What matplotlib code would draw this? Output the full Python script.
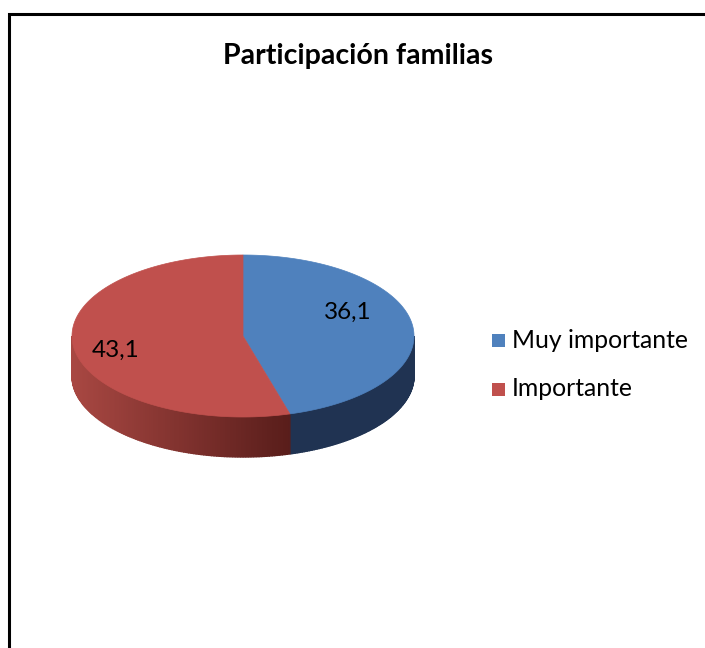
import numpy as np
import matplotlib
matplotlib.use("Agg")
import matplotlib.pyplot as plt
from matplotlib.patches import Polygon, Rectangle
from matplotlib.lines import Line2D

# ---- data ----
title = "Participación familias"
categories = ["Muy importante", "Importante"]
values = [36.1, 43.1]
labels = ["36,1", "43,1"]

# ---- style / layout ----
top_colors = ["#4F81BD", "#C0504D"]
side_light = [(0.14, 0.22, 0.35), (0.66, 0.28, 0.26)]
side_dark = [(0.11, 0.18, 0.29), (0.34, 0.11, 0.10)]
W, H = 705, 648
cx, cy, rx, ry, depth = 243, 336, 171, 81, 40
label_pos = [(348, 312), (116, 350)]
FONT = "Lato"

fig = plt.figure(figsize=(W / 100, H / 100), dpi=100)
ax = fig.add_axes([0, 0, 1, 1])
ax.set_xlim(0, W)
ax.set_ylim(H, 0)
ax.axis("off")


def pt(theta_deg, dy=0.0):
    t = np.radians(theta_deg)
    return cx + rx * np.sin(t), cy - ry * np.cos(t) + dy


total = sum(values)
bounds = np.concatenate([[0], np.cumsum(values) / total * 360.0])

# sides (front half: theta 90..270)
for i in range(len(values)):
    a0, a1 = max(bounds[i], 90), min(bounds[i + 1], 270)
    if a1 <= a0:
        continue
    n = 120
    ts = np.linspace(a0, a1, n + 1)
    for k in range(n):
        t0, t1 = ts[k], ts[k + 1]
        tm = 0.5 * (t0 + t1)
        xm = np.sin(np.radians(tm))  # -1 left .. 1 right
        if i == 1:
            f = (np.clip(xm, -1, 0.3) + 1) / 1.3
        else:
            f = 0.5
        c = tuple(np.array(side_light[i]) * (1 - f) + np.array(side_dark[i]) * f)
        p0, p1 = pt(t0), pt(t1)
        q1, q0 = pt(t1, depth), pt(t0, depth)
        ax.add_patch(Polygon([p0, p1, q1, q0], closed=True, facecolor=c,
                             edgecolor=c, linewidth=1.0))

# top faces
for i in range(len(values)):
    ts = np.linspace(bounds[i], bounds[i + 1], 200)
    pts = [(cx, cy)] + [pt(t) for t in ts]
    ax.add_patch(Polygon(pts, closed=True, facecolor=top_colors[i],
                         edgecolor=top_colors[i], linewidth=0.5))

for (x, y), s in zip(label_pos, labels):
    ax.text(x, y, s, ha="center", va="center", fontsize=17.5,
            family=FONT, color="#000000")

# title
ax.text(358, 56, title, ha="center", va="center", fontsize=20.5,
        fontweight="bold", family=FONT, color="#000000")

# legend
for i, cat in enumerate(categories):
    y = 340 + i * 49
    ax.add_patch(Rectangle((492, y - 6.5), 13, 13, facecolor=top_colors[i],
                           edgecolor="none"))
    ax.text(512, y, cat, ha="left", va="center", fontsize=17.8,
            family=FONT, color="#000000")

# frame
ax.add_line(Line2D([9, 9, W + 5], [H + 5, 14, 14], color="black",
                   linewidth=2.2, solid_joinstyle="miter"))

fig.savefig("out.png", dpi=100)
